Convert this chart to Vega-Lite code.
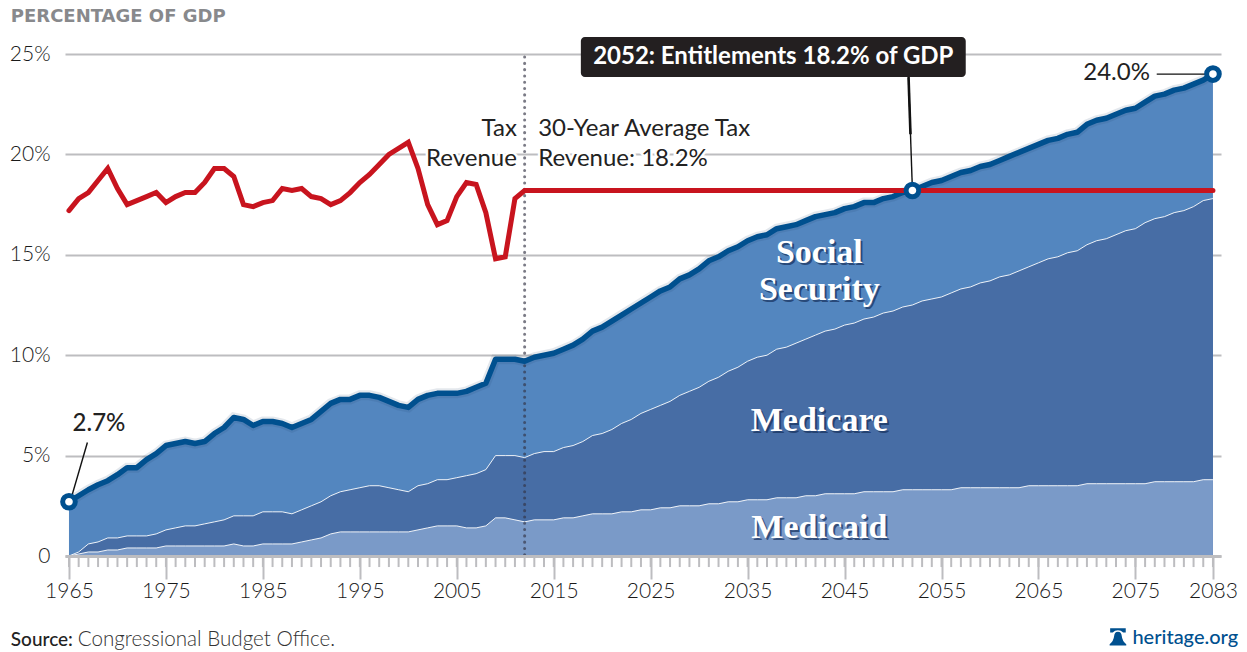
{"$schema":"https://vega.github.io/schema/vega-lite/v6.json","width":1156,"height":502,"autosize":"none","padding":{"left":65,"top":54,"right":26,"bottom":96},"background":"white",
"config":{"view":{"stroke":null},"text":{"font":"Lato"}},
"datasets":{
"main":[
{"year":1965,"medicaid":0,"medicare":0,"total":2.7,"revenue":17.2},{"year":1966,"medicaid":0.1,"medicare":0.2,"total":3.0,"revenue":17.8},{"year":1967,"medicaid":0.2,"medicare":0.6,"total":3.3,"revenue":18.1},{"year":1968,"medicaid":0.2,"medicare":0.7,"total":3.55,"revenue":18.7},{"year":1969,"medicaid":0.3,"medicare":0.9,"total":3.75,"revenue":19.3},{"year":1970,"medicaid":0.3,"medicare":0.9,"total":4.05,"revenue":18.3},{"year":1971,"medicaid":0.4,"medicare":1.0,"total":4.4,"revenue":17.5},{"year":1972,"medicaid":0.4,"medicare":1.0,"total":4.4,"revenue":17.7},{"year":1973,"medicaid":0.4,"medicare":1.0,"total":4.8,"revenue":17.9},{"year":1974,"medicaid":0.4,"medicare":1.1,"total":5.1,"revenue":18.1},
{"year":1975,"medicaid":0.5,"medicare":1.3,"total":5.5,"revenue":17.6},{"year":1976,"medicaid":0.5,"medicare":1.4,"total":5.6,"revenue":17.9},{"year":1977,"medicaid":0.5,"medicare":1.5,"total":5.7,"revenue":18.1},{"year":1978,"medicaid":0.5,"medicare":1.5,"total":5.6,"revenue":18.1},{"year":1979,"medicaid":0.5,"medicare":1.6,"total":5.7,"revenue":18.6},{"year":1980,"medicaid":0.5,"medicare":1.7,"total":6.1,"revenue":19.3},{"year":1981,"medicaid":0.5,"medicare":1.8,"total":6.4,"revenue":19.3},{"year":1982,"medicaid":0.6,"medicare":2.0,"total":6.9,"revenue":18.9},{"year":1983,"medicaid":0.5,"medicare":2.0,"total":6.8,"revenue":17.5},{"year":1984,"medicaid":0.5,"medicare":2.0,"total":6.5,"revenue":17.4},
{"year":1985,"medicaid":0.6,"medicare":2.2,"total":6.7,"revenue":17.6},{"year":1986,"medicaid":0.6,"medicare":2.2,"total":6.7,"revenue":17.7},{"year":1987,"medicaid":0.6,"medicare":2.2,"total":6.6,"revenue":18.3},{"year":1988,"medicaid":0.6,"medicare":2.1,"total":6.4,"revenue":18.2},{"year":1989,"medicaid":0.7,"medicare":2.3,"total":6.6,"revenue":18.3},{"year":1990,"medicaid":0.8,"medicare":2.5,"total":6.8,"revenue":17.9},{"year":1991,"medicaid":0.9,"medicare":2.7,"total":7.2,"revenue":17.8},{"year":1992,"medicaid":1.1,"medicare":3.0,"total":7.6,"revenue":17.5},{"year":1993,"medicaid":1.2,"medicare":3.2,"total":7.8,"revenue":17.7},{"year":1994,"medicaid":1.2,"medicare":3.3,"total":7.8,"revenue":18.1},
{"year":1995,"medicaid":1.2,"medicare":3.4,"total":8.0,"revenue":18.6},{"year":1996,"medicaid":1.2,"medicare":3.5,"total":8.0,"revenue":19.0},{"year":1997,"medicaid":1.2,"medicare":3.5,"total":7.9,"revenue":19.5},{"year":1998,"medicaid":1.2,"medicare":3.4,"total":7.7,"revenue":20.0},{"year":1999,"medicaid":1.2,"medicare":3.3,"total":7.5,"revenue":20.3},{"year":2000,"medicaid":1.2,"medicare":3.2,"total":7.4,"revenue":20.6},{"year":2001,"medicaid":1.3,"medicare":3.5,"total":7.8,"revenue":19.3},{"year":2002,"medicaid":1.4,"medicare":3.6,"total":8.0,"revenue":17.5},{"year":2003,"medicaid":1.5,"medicare":3.8,"total":8.1,"revenue":16.5},{"year":2004,"medicaid":1.5,"medicare":3.8,"total":8.1,"revenue":16.7},
{"year":2005,"medicaid":1.5,"medicare":3.9,"total":8.1,"revenue":17.9},{"year":2006,"medicaid":1.4,"medicare":4.0,"total":8.2,"revenue":18.6},{"year":2007,"medicaid":1.4,"medicare":4.1,"total":8.4,"revenue":18.5},{"year":2008,"medicaid":1.5,"medicare":4.3,"total":8.6,"revenue":17.1},{"year":2009,"medicaid":1.9,"medicare":5.0,"total":9.8,"revenue":14.8},{"year":2010,"medicaid":1.9,"medicare":5.0,"total":9.8,"revenue":14.9},{"year":2011,"medicaid":1.8,"medicare":5.0,"total":9.8,"revenue":17.8},{"year":2012,"medicaid":1.7,"medicare":4.9,"total":9.7,"revenue":18.2},{"year":2013,"medicaid":1.8,"medicare":5.1,"total":9.9,"revenue":18.2},{"year":2014,"medicaid":1.8,"medicare":5.2,"total":10.0,"revenue":18.2},
{"year":2015,"medicaid":1.8,"medicare":5.2,"total":10.1,"revenue":18.2},{"year":2016,"medicaid":1.9,"medicare":5.4,"total":10.3,"revenue":18.2},{"year":2017,"medicaid":1.9,"medicare":5.5,"total":10.5,"revenue":18.2},{"year":2018,"medicaid":2.0,"medicare":5.7,"total":10.8,"revenue":18.2},{"year":2019,"medicaid":2.1,"medicare":6.0,"total":11.2,"revenue":18.2},{"year":2020,"medicaid":2.1,"medicare":6.1,"total":11.4,"revenue":18.2},{"year":2021,"medicaid":2.1,"medicare":6.3,"total":11.7,"revenue":18.2},{"year":2022,"medicaid":2.2,"medicare":6.6,"total":12.0,"revenue":18.2},{"year":2023,"medicaid":2.2,"medicare":6.8,"total":12.3,"revenue":18.2},{"year":2024,"medicaid":2.3,"medicare":7.1,"total":12.6,"revenue":18.2},
{"year":2025,"medicaid":2.3,"medicare":7.3,"total":12.9,"revenue":18.2},{"year":2026,"medicaid":2.4,"medicare":7.5,"total":13.2,"revenue":18.2},{"year":2027,"medicaid":2.4,"medicare":7.7,"total":13.4,"revenue":18.2},{"year":2028,"medicaid":2.5,"medicare":8.0,"total":13.8,"revenue":18.2},{"year":2029,"medicaid":2.5,"medicare":8.2,"total":14.0,"revenue":18.2},{"year":2030,"medicaid":2.5,"medicare":8.4,"total":14.3,"revenue":18.2},{"year":2031,"medicaid":2.6,"medicare":8.7,"total":14.7,"revenue":18.2},{"year":2032,"medicaid":2.6,"medicare":8.9,"total":14.9,"revenue":18.2},{"year":2033,"medicaid":2.7,"medicare":9.2,"total":15.2,"revenue":18.2},{"year":2034,"medicaid":2.7,"medicare":9.4,"total":15.4,"revenue":18.2},
{"year":2035,"medicaid":2.8,"medicare":9.7,"total":15.7,"revenue":18.2},{"year":2036,"medicaid":2.8,"medicare":9.9,"total":15.9,"revenue":18.2},{"year":2037,"medicaid":2.8,"medicare":10.0,"total":16.0,"revenue":18.2},{"year":2038,"medicaid":2.9,"medicare":10.3,"total":16.3,"revenue":18.2},{"year":2039,"medicaid":2.9,"medicare":10.4,"total":16.4,"revenue":18.2},{"year":2040,"medicaid":2.9,"medicare":10.6,"total":16.5,"revenue":18.2},{"year":2041,"medicaid":3.0,"medicare":10.8,"total":16.7,"revenue":18.2},{"year":2042,"medicaid":3.0,"medicare":11.0,"total":16.9,"revenue":18.2},{"year":2043,"medicaid":3.1,"medicare":11.2,"total":17.0,"revenue":18.2},{"year":2044,"medicaid":3.1,"medicare":11.3,"total":17.1,"revenue":18.2},
{"year":2045,"medicaid":3.1,"medicare":11.5,"total":17.3,"revenue":18.2},{"year":2046,"medicaid":3.1,"medicare":11.6,"total":17.4,"revenue":18.2},{"year":2047,"medicaid":3.2,"medicare":11.8,"total":17.6,"revenue":18.2},{"year":2048,"medicaid":3.2,"medicare":11.9,"total":17.6,"revenue":18.2},{"year":2049,"medicaid":3.2,"medicare":12.1,"total":17.8,"revenue":18.2},{"year":2050,"medicaid":3.2,"medicare":12.2,"total":17.9,"revenue":18.2},{"year":2051,"medicaid":3.3,"medicare":12.4,"total":18.1,"revenue":18.2},{"year":2052,"medicaid":3.3,"medicare":12.5,"total":18.2,"revenue":18.2},{"year":2053,"medicaid":3.3,"medicare":12.7,"total":18.4,"revenue":18.2},{"year":2054,"medicaid":3.3,"medicare":12.8,"total":18.6,"revenue":18.2},
{"year":2055,"medicaid":3.3,"medicare":12.9,"total":18.7,"revenue":18.2},{"year":2056,"medicaid":3.3,"medicare":13.1,"total":18.9,"revenue":18.2},{"year":2057,"medicaid":3.4,"medicare":13.3,"total":19.1,"revenue":18.2},{"year":2058,"medicaid":3.4,"medicare":13.4,"total":19.2,"revenue":18.2},{"year":2059,"medicaid":3.4,"medicare":13.6,"total":19.4,"revenue":18.2},{"year":2060,"medicaid":3.4,"medicare":13.7,"total":19.5,"revenue":18.2},{"year":2061,"medicaid":3.4,"medicare":13.9,"total":19.7,"revenue":18.2},{"year":2062,"medicaid":3.4,"medicare":14.0,"total":19.9,"revenue":18.2},{"year":2063,"medicaid":3.4,"medicare":14.2,"total":20.1,"revenue":18.2},{"year":2064,"medicaid":3.5,"medicare":14.4,"total":20.3,"revenue":18.2},
{"year":2065,"medicaid":3.5,"medicare":14.6,"total":20.5,"revenue":18.2},{"year":2066,"medicaid":3.5,"medicare":14.8,"total":20.7,"revenue":18.2},{"year":2067,"medicaid":3.5,"medicare":14.9,"total":20.8,"revenue":18.2},{"year":2068,"medicaid":3.5,"medicare":15.1,"total":21.0,"revenue":18.2},{"year":2069,"medicaid":3.5,"medicare":15.2,"total":21.1,"revenue":18.2},{"year":2070,"medicaid":3.6,"medicare":15.5,"total":21.5,"revenue":18.2},{"year":2071,"medicaid":3.6,"medicare":15.7,"total":21.7,"revenue":18.2},{"year":2072,"medicaid":3.6,"medicare":15.8,"total":21.8,"revenue":18.2},{"year":2073,"medicaid":3.6,"medicare":16.0,"total":22.0,"revenue":18.2},{"year":2074,"medicaid":3.6,"medicare":16.2,"total":22.2,"revenue":18.2},
{"year":2075,"medicaid":3.6,"medicare":16.3,"total":22.3,"revenue":18.2},{"year":2076,"medicaid":3.6,"medicare":16.6,"total":22.6,"revenue":18.2},{"year":2077,"medicaid":3.7,"medicare":16.8,"total":22.9,"revenue":18.2},{"year":2078,"medicaid":3.7,"medicare":16.9,"total":23.0,"revenue":18.2},{"year":2079,"medicaid":3.7,"medicare":17.1,"total":23.2,"revenue":18.2},{"year":2080,"medicaid":3.7,"medicare":17.2,"total":23.3,"revenue":18.2},{"year":2081,"medicaid":3.7,"medicare":17.4,"total":23.5,"revenue":18.2},{"year":2082,"medicaid":3.8,"medicare":17.7,"total":23.7,"revenue":18.2},{"year":2083,"medicaid":3.8,"medicare":17.8,"total":24.0,"revenue":18.2}],
"notesRight":[{"year":2011.2,"value":21.25,"label":"Tax"},{"year":2011.2,"value":19.75,"label":"Revenue"},{"year":2076.5,"value":24.05,"label":"24.0%"}],
"notesLeft":[{"year":2013.4,"value":21.25,"label":"30-Year Average Tax"},{"year":2013.4,"value":19.75,"label":"Revenue: 18.2%"}],
"startNote":[{"year":1968.1,"value":6.55,"label":"2.7%"}],
"areaNames":[{"year":2042.4,"value":15.09,"label":"Social"},{"year":2042.4,"value":13.25,"label":"Security"},{"year":2042.4,"value":6.72,"label":"Medicare"},{"year":2042.4,"value":1.39,"label":"Medicaid"}],
"leaders":[{"year":1966.9,"value":5.65,"year2":1965.3,"value2":3.0},{"year":2077.2,"value":24.0,"year2":2082.4,"value2":24.0},{"year":2051.6,"value":23.85,"year2":2052,"value2":18.2}],
"taper":[{"year":2051.6,"value":23.85,"year2":2051.8,"value2":21}],
"dots":[{"year":1965,"value":2.7},{"year":2052,"value":18.2},{"year":2083,"value":24.0}],
"callout":[{"year":2017.8,"year2":2057.5,"value":25.85,"value2":23.85}],
"calloutText":[{"year":2037.65,"value":24.85,"label":"2052: Entitlements 18.2% of GDP"}],
"divider":[{"year":2012,"value":24.85,"value2":-0.2}],
"heading":[{"year":1959,"value":26.84,"label":"PERCENTAGE OF GDP"}],
"sourceBold":[{"year":1959,"value":-4.18,"label":"Source:"}],
"sourceText":[{"year":1965.9,"value":-4.18,"label":"Congressional Budget Office."}],
"brand":[{"year":2085.6,"value":-4.08,"label":"heritage.org"}],
"bell":[{"year":2073.2,"value":-4.03}]
},
"data":{"name":"main"},
"encoding":{"x":{"field":"year","type":"quantitative","title":null,"scale":{"domain":[1964.59,2083.83],"zero":false,"nice":false},"axis":{"values":[1965,1975,1985,1995,2005,2015,2025,2035,2045,2055,2065,2075,2083],"format":"d","grid":false,"zindex":1,"domainColor":"#BDBDC0","domainWidth":3,"tickColor":"#BDBDC0","tickWidth":2,"tickSize":23,"labelFont":"Lato","labelFontSize":21,"labelFontWeight":300,"labelColor":"#1A1A1A","labelPadding":1,"labelFlush":false,"labelOverlap":false,"title":null}}},
"layer":[
{"mark":{"type":"area","color":"#5386BF"},"encoding":{"y":{"field":"total","type":"quantitative","title":null,"scale":{"domain":[0,25],"nice":false},"axis":{"values":[0,5,10,15,20,25],"labelExpr":"datum.value == 0 ? '0' : datum.value + '%'","grid":true,"gridColor":"#BDBDC0","gridWidth":2,"domain":false,"ticks":false,"labelFont":"Lato","labelFontSize":21,"labelFontWeight":300,"labelColor":"#1A1A1A","labelPadding":15,"title":null}}}},
{"mark":{"type":"area","color":"#476DA5"},"encoding":{"y":{"field":"medicare","type":"quantitative","title":null}}},
{"mark":{"type":"area","color":"#7A9AC8"},"encoding":{"y":{"field":"medicaid","type":"quantitative","title":null}}},
{"mark":{"type":"line","color":"white","strokeWidth":1,"opacity":0.9},"encoding":{"y":{"field":"medicare","type":"quantitative","title":null}}},
{"mark":{"type":"line","color":"white","strokeWidth":1,"opacity":0.9},"encoding":{"y":{"field":"medicaid","type":"quantitative","title":null}}},
{"mark":{"type":"rule","color":"#BDBDC0","strokeWidth":2},"encoding":{"y":{"datum":0,"type":"quantitative","title":null},"y2":{"datum":-0.55}}},
{"data":{"name":"divider"},"mark":{"type":"rule","color":"#333344","opacity":0.65,"strokeWidth":3,"strokeCap":"round","strokeDash":[0.1,6.2]},"encoding":{"y":{"field":"value","type":"quantitative","title":null},"y2":{"field":"value2"}}},
{"mark":{"type":"line","color":"#1F3F6E","opacity":0.12,"strokeWidth":10},"encoding":{"y":{"field":"total","type":"quantitative","title":null}}},
{"mark":{"type":"line","color":"#00508F","strokeWidth":5.5,"strokeJoin":"round"},"encoding":{"y":{"field":"total","type":"quantitative","title":null}}},
{"mark":{"type":"line","color":"#C8141E","strokeWidth":5,"strokeCap":"round"},"encoding":{"y":{"field":"revenue","type":"quantitative","title":null}}},
{"data":{"name":"leaders"},"mark":{"type":"rule","color":"#111111","strokeWidth":1.4},"encoding":{"y":{"field":"value","type":"quantitative","title":null},"x2":{"field":"year2"},"y2":{"field":"value2"}}},
{"data":{"name":"taper"},"mark":{"type":"rule","color":"#111111","strokeWidth":2.6},"encoding":{"y":{"field":"value","type":"quantitative","title":null},"x2":{"field":"year2"},"y2":{"field":"value2"}}},
{"data":{"name":"callout"},"mark":{"type":"rect","color":"#231F20","cornerRadius":4},"encoding":{"y":{"field":"value","type":"quantitative","title":null},"x2":{"field":"year2"},"y2":{"field":"value2"}}},
{"data":{"name":"calloutText"},"mark":{"type":"text","color":"white","fontSize":24,"fontWeight":700,"align":"center","baseline":"middle"},"encoding":{"y":{"field":"value","type":"quantitative","title":null},"text":{"field":"label"}}},
{"data":{"name":"dots"},"mark":{"type":"point","filled":true,"fill":"white","stroke":"#00508F","strokeWidth":5,"size":160,"opacity":1},"encoding":{"y":{"field":"value","type":"quantitative","title":null}}},
{"data":{"name":"notesRight"},"mark":{"type":"text","stroke":"white","strokeWidth":5,"fontSize":24,"fontWeight":400,"align":"right","baseline":"middle"},"encoding":{"y":{"field":"value","type":"quantitative","title":null},"text":{"field":"label"}}},
{"data":{"name":"notesRight"},"mark":{"type":"text","color":"#222222","fontSize":24,"fontWeight":400,"align":"right","baseline":"middle"},"encoding":{"y":{"field":"value","type":"quantitative","title":null},"text":{"field":"label"}}},
{"data":{"name":"notesLeft"},"mark":{"type":"text","stroke":"white","strokeWidth":5,"fontSize":24,"fontWeight":400,"align":"left","baseline":"middle"},"encoding":{"y":{"field":"value","type":"quantitative","title":null},"text":{"field":"label"}}},
{"data":{"name":"notesLeft"},"mark":{"type":"text","color":"#222222","fontSize":24,"fontWeight":400,"align":"left","baseline":"middle"},"encoding":{"y":{"field":"value","type":"quantitative","title":null},"text":{"field":"label"}}},
{"data":{"name":"startNote"},"mark":{"type":"text","color":"#222222","fontSize":24,"fontWeight":500,"align":"center","baseline":"middle"},"encoding":{"y":{"field":"value","type":"quantitative","title":null},"text":{"field":"label"}}},
{"data":{"name":"areaNames"},"mark":{"type":"text","color":"#16305C","opacity":0.7,"font":"Liberation Serif","fontWeight":"bold","fontSize":34,"align":"center","baseline":"middle","dx":2,"dy":2},"encoding":{"y":{"field":"value","type":"quantitative","title":null},"text":{"field":"label"}}},
{"data":{"name":"areaNames"},"mark":{"type":"text","color":"white","font":"Liberation Serif","fontWeight":"bold","fontSize":34,"align":"center","baseline":"middle"},"encoding":{"y":{"field":"value","type":"quantitative","title":null},"text":{"field":"label"}}},
{"data":{"name":"heading"},"mark":{"type":"text","color":"#88898C","font":"DejaVu Sans","fontSize":18,"fontWeight":"bold","align":"left","baseline":"middle"},"encoding":{"y":{"field":"value","type":"quantitative","title":null},"text":{"field":"label"}}},
{"data":{"name":"sourceBold"},"mark":{"type":"text","color":"#222222","fontSize":19,"fontWeight":500,"align":"left","baseline":"middle"},"encoding":{"y":{"field":"value","type":"quantitative","title":null},"text":{"field":"label"}}},
{"data":{"name":"sourceText"},"mark":{"type":"text","color":"#333333","fontSize":20.6,"fontWeight":300,"align":"left","baseline":"middle"},"encoding":{"y":{"field":"value","type":"quantitative","title":null},"text":{"field":"label"}}},
{"data":{"name":"brand"},"mark":{"type":"text","color":"#00508F","fontSize":20,"fontWeight":500,"align":"right","baseline":"middle"},"encoding":{"y":{"field":"value","type":"quantitative","title":null},"text":{"field":"label"}}},
{"data":{"name":"bell"},"mark":{"type":"point","filled":true,"opacity":1,"color":"#00508F","size":1200,"shape":"M-0.45,-0.5 L0.45,-0.5 L0.45,-0.25 L0.3,-0.25 Q0.18,-0.38 0,-0.38 Q-0.18,-0.38 -0.3,-0.25 L-0.45,-0.25 Z M0,-0.3 Q0.2,-0.3 0.22,-0.05 Q0.25,0.25 0.48,0.42 L0.48,0.5 L-0.48,0.5 L-0.48,0.42 Q-0.25,0.25 -0.22,-0.05 Q-0.2,-0.3 0,-0.3 Z"},"encoding":{"y":{"field":"value","type":"quantitative","title":null}}}
]}
